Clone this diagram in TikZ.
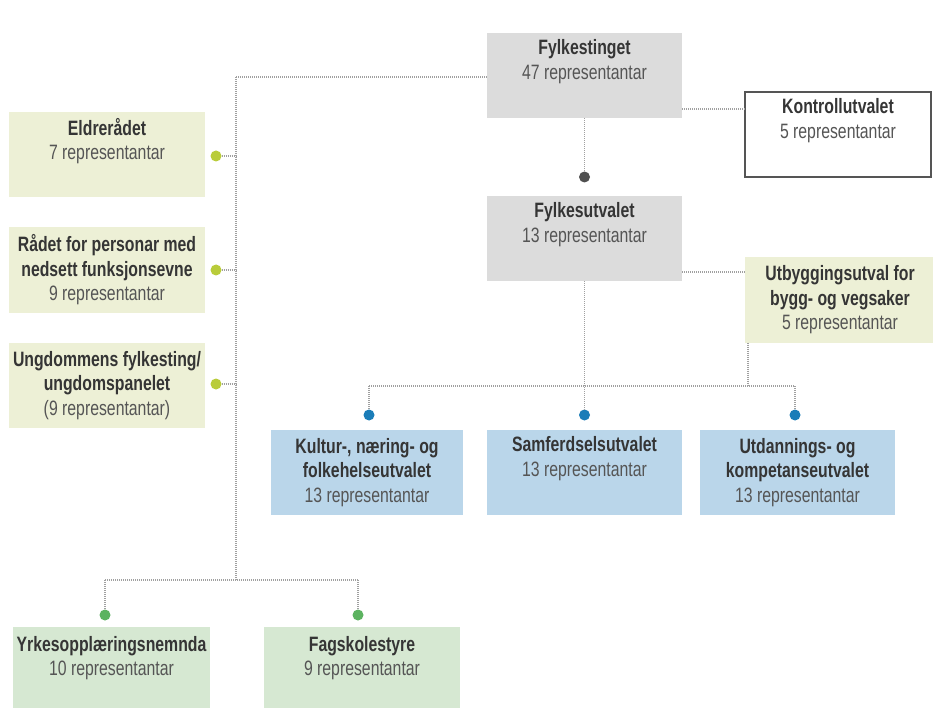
\documentclass[tikz,border=0pt]{standalone}
\usepackage{fontspec}
\setmainfont{Liberation Sans}[FakeStretch=0.76]
\definecolor{boxgray}{HTML}{DCDCDC}
\definecolor{boxyel}{HTML}{EDF0D6}
\definecolor{boxblue}{HTML}{BAD6EA}
\definecolor{boxgreen}{HTML}{D6E8D2}
\definecolor{dotyel}{HTML}{B9CC3A}
\definecolor{dotblue}{HTML}{1B7DB8}
\definecolor{dotgreen}{HTML}{5CB360}
\definecolor{dotgray}{HTML}{505050}
\definecolor{linegray}{HTML}{A0A0A0}
\definecolor{titlecol}{HTML}{353535}
\definecolor{numcol}{HTML}{555555}
\newcommand{\ttl}[1]{{\bfseries\color{titlecol}#1}}
\newcommand{\num}[1]{{\color{numcol}#1}}
\begin{document}
\begin{tikzpicture}[x=1pt,y=-1pt,
  orgbox/.style={rectangle, inner sep=0pt, align=center, minimum height=85pt,
    font=\fontsize{20.8}{24.5}\selectfont},
  graybox/.style={orgbox, fill=boxgray, minimum width=195pt},
  whitebox/.style={orgbox, fill=white, draw=numcol, line width=1.3pt, minimum width=186pt},
  yelbox/.style={orgbox, fill=boxyel, minimum width=196pt},
  bluebox/.style={orgbox, fill=boxblue, minimum width=192pt},
  greenbox/.style={orgbox, fill=boxgreen, minimum width=196pt, minimum height=90pt},
  dot/.style={circle, inner sep=0pt, minimum size=11pt},
  ydot/.style={dot, fill=dotyel},
  bdot/.style={dot, fill=dotblue},
  gdot/.style={dot, fill=dotgreen},
  kdot/.style={dot, fill=dotgray},
  link/.style={draw=linegray, line width=1.1pt, dash pattern=on 1pt off 1pt}
]
\clip (0,0) rectangle (933,708);
\fill[white] (0,0) rectangle (933,708);

% boxes
\node[graybox] (fting) at (584.5,75.5) {\ttl{Fylkestinget}\\\num{47 representantar}\\\strut};
\node[whitebox] (kontroll) at (838,134.5) {\ttl{Kontrollutvalet}\\\num{5 representantar}\\\strut};
\node[graybox] (futv) at (584.5,238.5) {\ttl{Fylkesutvalet}\\\num{13 representantar}\\\strut};
\node[yelbox, minimum width=190pt] (utbyg) at (840,300) {\ttl{Utbyggingsutval for}\\\ttl{bygg- og vegsaker}\\\num{5 representantar}};
\node[yelbox] (eldre) at (107,155) {\ttl{Eldrerådet}\\\num{7 representantar}\\\strut};
\node[yelbox] (radet) at (107,270) {\ttl{Rådet for personar med}\\\ttl{nedsett funksjonsevne}\\\num{9 representantar}};
\node[yelbox] (ungdom) at (107,385.5) {\ttl{Ungdommens fylkesting/}\\\ttl{ungdomspanelet}\\\num{(9 representantar)}};
\node[bluebox] (kultur) at (367,472.5) {\ttl{Kultur-, næring- og}\\\ttl{folkehelseutvalet}\\\num{13 representantar}};
\node[bluebox, minimum width=195pt] (samf) at (584.5,472.5) {\ttl{Samferdselsutvalet}\\\num{13 representantar}\\\strut};
\node[bluebox, minimum width=195pt] (utdann) at (797.5,472.5) {\ttl{Utdannings- og}\\\ttl{kompetanseutvalet}\\\num{13 representantar}};
\node[greenbox, minimum width=197pt] (yrkes) at (111.5,672) {\ttl{Yrkesopplæringsnemnda}\\\num{10 representantar}\\\strut};
\node[greenbox] (fagsk) at (362,672) {\ttl{Fagskolestyre}\\\num{9 representantar}\\\strut};

% dots
\node[ydot] (deldre) at (216,156) {};
\node[ydot] (dradet) at (216,270) {};
\node[ydot] (dungdom) at (216,384) {};
\node[kdot] (dfutv) at (584.5,177) {};
\node[bdot] (dkultur) at (369,415) {};
\node[bdot] (dsamf) at (584.5,415) {};
\node[bdot] (dutdann) at (795,415) {};
\node[gdot] (dyrkes) at (105,615) {};
\node[gdot] (dfagsk) at (358,615) {};

% junction coordinates
\coordinate (ttop) at (236,77);
\coordinate (tbot) at (236,580);
\coordinate (gl) at (105,580);
\coordinate (gr) at (358,580);
\coordinate (bl) at (369,386);
\coordinate (br) at (795,386);
\coordinate (bu) at (748,386);

% connectors
\draw[link] (ttop) -- (ttop -| fting.west);
\draw[link] (ttop) -- (tbot);
\draw[link] (deldre) -- (deldre -| ttop);
\draw[link] (dradet) -- (dradet -| ttop);
\draw[link] (dungdom) -- (dungdom -| ttop);
\draw[link] (gl) -- (gr);
\draw[link] (gl) -- (dyrkes);
\draw[link] (gr) -- (dfagsk);
\draw[link] (fting.south) -- (dfutv);
\draw[link] ([yshift=-33.5pt]fting.east) -- ([yshift=-33.5pt]fting.east -| kontroll.west);
\draw[link] ([yshift=-33.5pt]futv.east) -- ([yshift=-33.5pt]futv.east -| utbyg.west);
\draw[link] (futv.south) -- (dsamf);
\draw[link] (bl) -- (br);
\draw[link] (bl) -- (dkultur);
\draw[link] (br) -- (dutdann);
\draw[link] (utbyg.south -| bu) -- (bu);
\end{tikzpicture}
\end{document}
